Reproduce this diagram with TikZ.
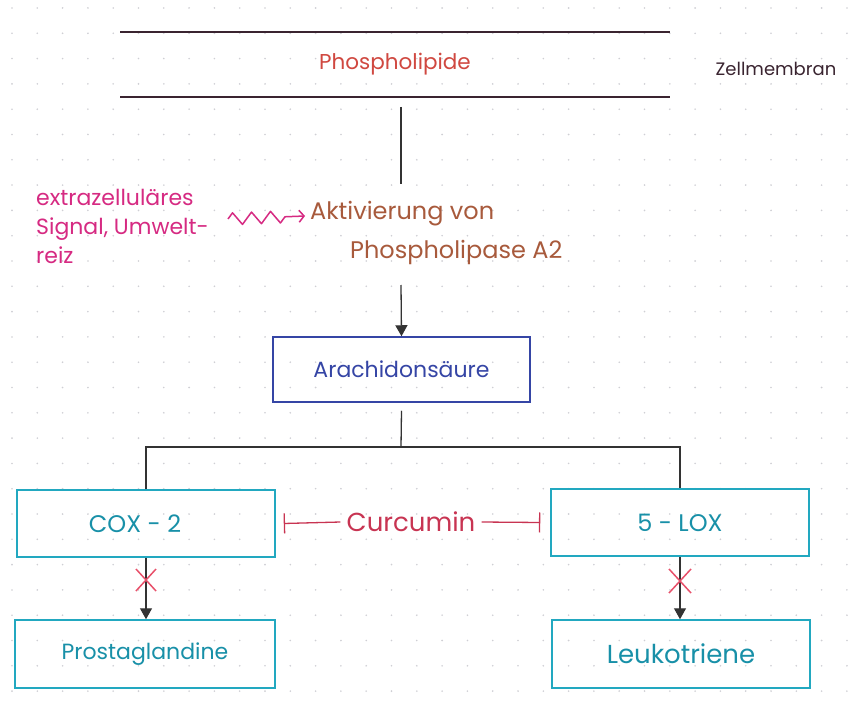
\documentclass[tikz,border=0pt]{standalone}
\usepackage{fontspec}
\setmainfont{Poppins}
\usetikzlibrary{arrows.meta,decorations.pathmorphing}
\definecolor{memred}{HTML}{D04840}
\definecolor{memdark}{HTML}{3A2430}
\definecolor{sigmag}{HTML}{D62A82}
\definecolor{actbrown}{HTML}{A85A3C}
\definecolor{arblue}{HTML}{3545A5}
\definecolor{boxteal}{HTML}{22A8C0}
\definecolor{txteal}{HTML}{1890A8}
\definecolor{curred}{HTML}{C83452}
\definecolor{xred}{HTML}{E8506A}
\definecolor{lineg}{HTML}{333333}
\definecolor{dotg}{HTML}{CFCFD4}
\tikzset{
  handtext/.style={inner sep=0pt, font=\fontsize{22}{26}\selectfont},
  bluebox/.style={draw=arblue, line width=1.5pt, minimum width=257pt, minimum height=65pt, text=arblue, font=\fontsize{22}{26}\selectfont},
  tealbox/.style={draw=boxteal, line width=1.5pt, minimum width=258pt, minimum height=67pt, text=txteal, font=\fontsize{24}{28}\selectfont},
  conn/.style={draw=lineg, line width=1.3pt},
  arr/.style={conn, -{Triangle[length=11pt,width=12pt]}},
  inhib/.style={draw=curred, line width=1.3pt, -{Bar[width=20pt]}},
  xmark/.style={draw=xred, line width=1.5pt}
}
\begin{document}
\begin{tikzpicture}[x=1pt,y=-1pt]
\useasboundingbox (0,0) rectangle (848,711);
\fill[white] (0,0) rectangle (848,711);
% dot grid
\foreach \i in {0,...,33} {
  \foreach \j in {0,...,28} {
    \fill[dotg] (12+25.3*\i, 8+25.3*\j) circle (0.9pt);
  }
}
% membrane
\coordinate (m1a) at (120,32);
\coordinate (m1b) at (670,32);
\coordinate (m2a) at (120,97);
\coordinate (m2b) at (670,97);
\draw[draw=memdark, line width=1.6pt] (m1a) -- (m1b);
\draw[draw=memdark, line width=1.6pt] (m2a) -- (m2b);
\node[handtext, text=memred, font=\fontsize{21.5}{26}\selectfont] (phos) at (395,64) {Phospholipide};
\node[handtext, text=memdark, font=\fontsize{18}{22}\selectfont] (zell) at (776,69) {Zellmembran};
% activation
\node[handtext, text=actbrown, anchor=west, font=\fontsize{24}{28}\selectfont] (akt1) at (310,214) {Aktivierung von};
\node[handtext, text=actbrown, anchor=west, font=\fontsize{24}{28}\selectfont] (akt2) at (350,252) {Phospholipase A2};
\coordinate (mtop) at (401,107);
\coordinate (mbot) at (401,184);
\draw[conn] (mtop) -- (mbot);
% signal
\node[handtext, text=sigmag, anchor=west, align=left, font=\fontsize{22}{29}\selectfont] (sig) at (36,226) {extrazelluläres\\Signal, Umwelt-\\reiz};
\coordinate (sqa) at (228,219);
\coordinate (sqb) at (305,216);
\draw[draw=sigmag, line width=1.5pt, line join=round, -{Straight Barb[length=5pt,width=12pt]},
  decorate, decoration={zigzag, amplitude=6pt, segment length=19pt, post length=17pt}] (sqa) -- (sqb);
% arachidonic acid
\node[bluebox] (arach) at (401.5,369.5) {Arachidonsäure};
\coordinate (aktbot) at (401,285);
\draw[arr] (aktbot) -- (arach.north);
% branch
\node[tealbox] (cox) at (146,523.5) {\hspace*{-22pt}COX - 2};
\node[tealbox] (lox) at (680,522.5) {5 - LOX};
\coordinate (br) at (401,447);
\draw[conn] (arach.south) ++(0,8) -- (br);
\draw[conn] (cox.north) |- (br) -| (lox.north);
% curcumin
\node[handtext, text=curred, font=\fontsize{26}{30}\selectfont] (cur) at (411,522) {Curcumin};
\draw[inhib] (cur.west) ++(-6,0) -- ([xshift=8pt]cox.east);
\draw[inhib] (cur.east) ++(6,0) -- ([xshift=-10pt]lox.west);
% products
\node[tealbox, minimum height=68pt, minimum width=260pt, font=\fontsize{22}{26}\selectfont] (prost) at (145,654) {Prostaglandine};
\node[tealbox, minimum height=68pt, font=\fontsize{26}{30}\selectfont] (leuk) at (681,654) {Leukotriene};
\draw[arr] (cox.south) -- (cox.south |- prost.north);
\draw[arr] (lox.south) -- (lox.south |- leuk.north);
% X marks
\coordinate (xl) at (146,580);
\coordinate (xr) at (680,581);
\draw[xmark] ([shift={(-10,-11)}]xl) -- ([shift={(10,11)}]xl);
\draw[xmark] ([shift={(10,-11)}]xl) -- ([shift={(-10,11)}]xl);
\draw[xmark] ([shift={(-11,-12)}]xr) -- ([shift={(11,12)}]xr);
\draw[xmark] ([shift={(11,-12)}]xr) -- ([shift={(-11,12)}]xr);
\end{tikzpicture}
\end{document}
